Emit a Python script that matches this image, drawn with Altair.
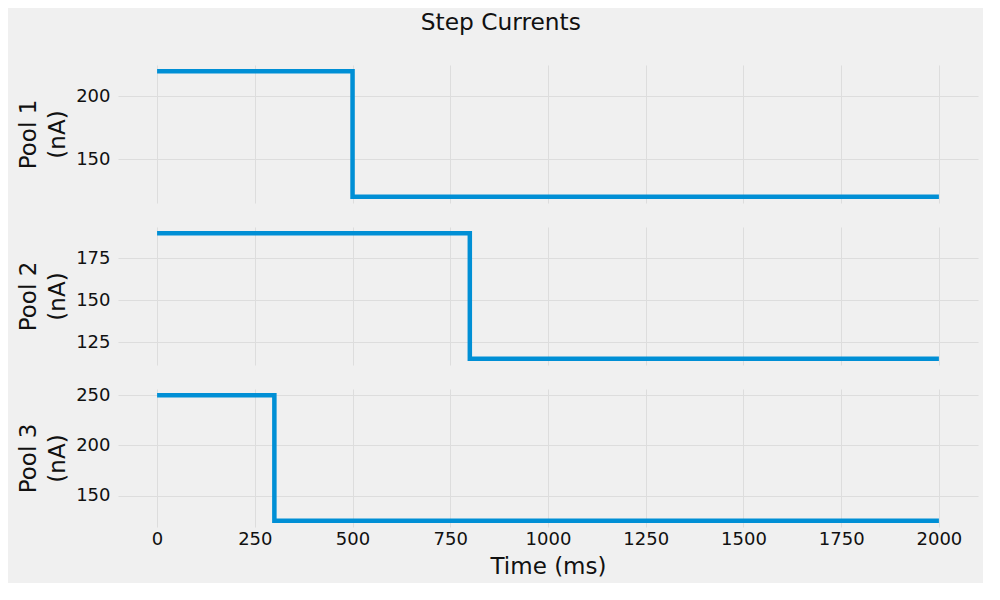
import altair as alt
import pandas as pd

# ---- data ----
pools = ["Pool 1", "Pool 2", "Pool 3"]
step_times = [500, 800, 300]          # ms at which the current steps down
high_values = [220, 190, 250]         # nA before the step
low_values = [120, 115, 125]          # nA after the step
t_start = 0
t_end = 2000
y_tick_values = [[150, 200], [125, 150, 175], [150, 200, 250]]
x_tick_values = [0, 250, 500, 750, 1000, 1250, 1500, 1750, 2000]

LINE_COLOR = "#008fd5"
FONT = "DejaVu Sans"


def margin_domain(lo, hi, frac=0.05):
    span = hi - lo
    return [lo - frac * span, hi + frac * span]


x_domain = margin_domain(t_start, t_end)

panels = []
for i, name in enumerate(pools):
    df = pd.DataFrame({
        "order": [0, 1, 2, 3],
        "t": [t_start, step_times[i], step_times[i], t_end],
        "v": [high_values[i], high_values[i], low_values[i], low_values[i]],
    })
    last = i == len(pools) - 1
    if last:
        x_axis = alt.Axis(values=x_tick_values, title="Time (ms)", labelPadding=3,
                          titlePadding=7, labelFlush=False, format="d")
    else:
        x_axis = alt.Axis(values=x_tick_values, labels=False, title=None)
    y_axis = alt.Axis(values=y_tick_values[i], title=[name, "(nA)"], labelPadding=8,
                      titlePadding=6, titleLineHeight=29, format="d")
    ch = alt.Chart(df).mark_line(color=LINE_COLOR, strokeWidth=4.5).encode(
        x=alt.X("t:Q", scale=alt.Scale(domain=x_domain, nice=False, zero=False), axis=x_axis),
        y=alt.Y("v:Q", scale=alt.Scale(domain=margin_domain(low_values[i], high_values[i]),
                                       nice=False, zero=False), axis=y_axis),
        order=alt.Order("order:Q"),
    ).properties(width=860, height=138)
    panels.append(ch)

chart = alt.vconcat(*panels, spacing=18).properties(
    title=alt.TitleParams("Step Currents", anchor="middle", frame="bounds", dx=3),
    padding={"left": 9, "top": 2, "right": 5, "bottom": 5},
    background="#f0f0f0",
).configure_view(stroke=None).configure_axis(
    domain=False, ticks=False, gridColor="#dddddd", gridWidth=1,
    labelFont=FONT, labelFontSize=18, labelColor="#111111",
    titleFont=FONT, titleFontSize=23, titleFontWeight="normal", titleColor="#111111",
).configure_title(font=FONT, fontSize=23.3, fontWeight="normal", color="#111111", offset=27)

chart.save("out.html", embed_options={"renderer": "svg", "actions": False})
